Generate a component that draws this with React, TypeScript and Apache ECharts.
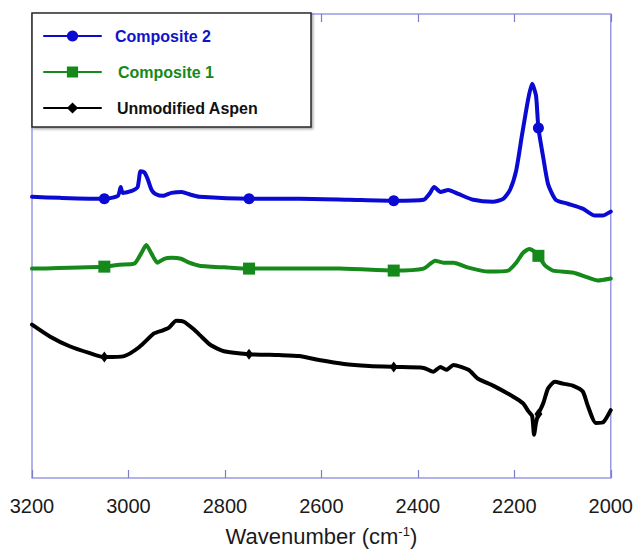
import React, { useEffect, useRef } from "react";
import * as echarts from "echarts";

const wavenumberTicks = [3200, 3000, 2800, 2600, 2400, 2200, 2000];
const markerWavenumbers = [3050, 2750, 2450, 2150];

const composite2Wn = [3200, 3142, 3050, 3022, 3016, 3012, 2993, 2981, 2975, 2967, 2960, 2952, 2944, 2929, 2911, 2890, 2870, 2853, 2750, 2646, 2543, 2450, 2388, 2376, 2366, 2353, 2337, 2316, 2285, 2244, 2223, 2209, 2196, 2184, 2171, 2163, 2155, 2150, 2140, 2130, 2114, 2089, 2058, 2033, 2017, 2000];
const composite2Val = [286, 285, 284, 287, 296, 290, 292, 296, 312, 311, 304, 293, 289, 287, 290, 291, 288, 286, 284, 284, 283, 282, 283, 289, 296, 291, 293, 289, 283, 281, 284, 293, 313, 349, 386, 401, 389, 356, 326, 299, 283, 279, 274, 267, 267, 271];

const composite1Wn = [3200, 3050, 3019, 2988, 2973, 2963, 2952, 2940, 2926, 2911, 2891, 2874, 2853, 2791, 2750, 2646, 2563, 2450, 2388, 2364, 2347, 2326, 2295, 2254, 2213, 2196, 2182, 2169, 2157, 2150, 2136, 2120, 2079, 2048, 2027, 2000];
const composite1Val = [213, 215, 217, 218, 229, 237, 228, 219, 223, 224, 223, 219, 216, 214, 213, 213, 213, 211, 213, 221, 219, 219, 214, 210, 211, 219, 229, 233, 230, 226, 216, 211, 209, 204, 201, 203];

const aspenWn = [3200, 3163, 3122, 3080, 3050, 3009, 2978, 2947, 2930, 2916, 2901, 2885, 2864, 2847, 2829, 2802, 2750, 2688, 2646, 2605, 2553, 2501, 2450, 2388, 2368, 2353, 2341, 2326, 2295, 2275, 2244, 2203, 2182, 2171, 2163, 2159, 2155, 2150, 2140, 2130, 2116, 2099, 2079, 2058, 2048, 2031, 2015, 2000];
const aspenVal = [156, 144, 134, 127, 123, 124, 133, 147, 150, 153, 160, 159, 151, 143, 135, 129, 126, 125, 124, 120, 116, 114, 113, 112, 108, 113, 110, 115, 110, 101, 94, 83, 76, 68, 63, 44, 56, 65, 76, 91, 98, 96, 94, 88, 74, 56, 57, 69];

const seriesNames = ["Composite 2", "Composite 1", "Unmodified Aspen"];
const seriesColors = ["#0a0ad2", "#15891a", "#000000"];
const legendTextColors = ["#1212c8", "#15891a", "#111111"];

const FONT = "'Liberation Sans', Arial, sans-serif";

function buildData(wn: number[], vals: number[]) {
  return wn.map((w, i) => ({
    value: [w, vals[i]],
    symbol: markerWavenumbers.includes(w) ? undefined : "none",
  }));
}

export default function App() {
  const ref = useRef<HTMLDivElement>(null);

  useEffect(() => {
    if (!ref.current) return;
    const chart = echarts.init(ref.current, undefined, { renderer: "svg" });

    const lineCommon = {
      type: "line" as const,
      smooth: 0.2,
      showSymbol: true,
      showAllSymbol: true,
      lineStyle: { width: 4, cap: "round", join: "round" },
      emphasis: { disabled: true },
    };

    const legendRowCenters = [35, 71, 107];
    const legendTextPad = [9, 12, 11];

    chart.setOption({
      animation: false,
      textStyle: { fontFamily: FONT },
      grid: {
        left: 32,
        right: 23,
        top: 14,
        bottom: 66,
        show: true,
        borderColor: "#9a9ae2",
        borderWidth: 1.5,
        backgroundColor: "transparent",
      },
      xAxis: [
        {
          type: "value",
          min: 2000,
          max: 3200,
          interval: 200,
          inverse: true,
          position: "bottom",
          axisLine: { show: false },
          axisTick: { show: true, inside: true, length: 8, lineStyle: { color: "#7c7cc8", width: 1.2 } },
          splitLine: { show: false },
          axisLabel: {
            fontSize: 20,
            color: "#1a1a1a",
            margin: 18,
            fontFamily: FONT,
            formatter: (v: number) => (wavenumberTicks.includes(v) ? String(v) : ""),
          },
          name: "{a|Wavenumber (cm}{s|-1}{a|)}",
          nameLocation: "middle",
          nameGap: 47,
          nameTextStyle: {
            rich: {
              a: { fontSize: 22, color: "#1a1a1a", fontFamily: FONT },
              s: { fontSize: 13, color: "#1a1a1a", fontFamily: FONT, verticalAlign: "top" },
            },
          },
        },
        {
          type: "value",
          min: 2000,
          max: 3200,
          interval: 200,
          inverse: true,
          position: "top",
          axisLine: { show: false },
          axisTick: { show: true, inside: true, length: 8, lineStyle: { color: "#7c7cc8", width: 1.2 } },
          splitLine: { show: false },
          axisLabel: { show: false },
        },
      ],
      yAxis: {
        type: "value",
        min: 0,
        max: 472,
        show: false,
      },
      legend: seriesNames.map((n, i) => ({
        orient: "vertical",
        left: 43,
        top: legendRowCenters[i] - 7,
        itemWidth: 57,
        itemHeight: 14,
        padding: 0,
        selectedMode: false,
        textStyle: {
          fontSize: 16,
          fontWeight: "bold",
          fontFamily: FONT,
          color: legendTextColors[i],
          padding: [0, 0, 0, legendTextPad[i]],
          lineHeight: 14,
        },
        data: [n],
      })),
      graphic: [
        {
          type: "rect",
          z: 3,
          shape: { x: 32, y: 13, width: 279, height: 114 },
          style: {
            fill: "#ffffff",
            stroke: "#2a2a2a",
            lineWidth: 1.5,
            shadowBlur: 2,
            shadowOffsetX: 1.5,
            shadowOffsetY: 1.5,
            shadowColor: "rgba(0,0,0,0.35)",
          },
        },
      ],
      series: [
        {
          ...lineCommon,
          name: seriesNames[0],
          color: seriesColors[0],
          symbol: "circle",
          symbolSize: 11,
          data: buildData(composite2Wn, composite2Val),
        },
        {
          ...lineCommon,
          name: seriesNames[1],
          color: seriesColors[1],
          symbol: "rect",
          symbolSize: 12,
          data: buildData(composite1Wn, composite1Val),
        },
        {
          ...lineCommon,
          name: seriesNames[2],
          color: seriesColors[2],
          symbol: "diamond",
          symbolSize: [8, 11],
          data: buildData(aspenWn, aspenVal),
        },
      ],
    });

    return () => chart.dispose();
  }, []);

  return (
    <div
      ref={ref}
      style={{ position: "fixed", left: 0, top: 0, width: 636, height: 552, background: "#fff" }}
    />
  );
}
